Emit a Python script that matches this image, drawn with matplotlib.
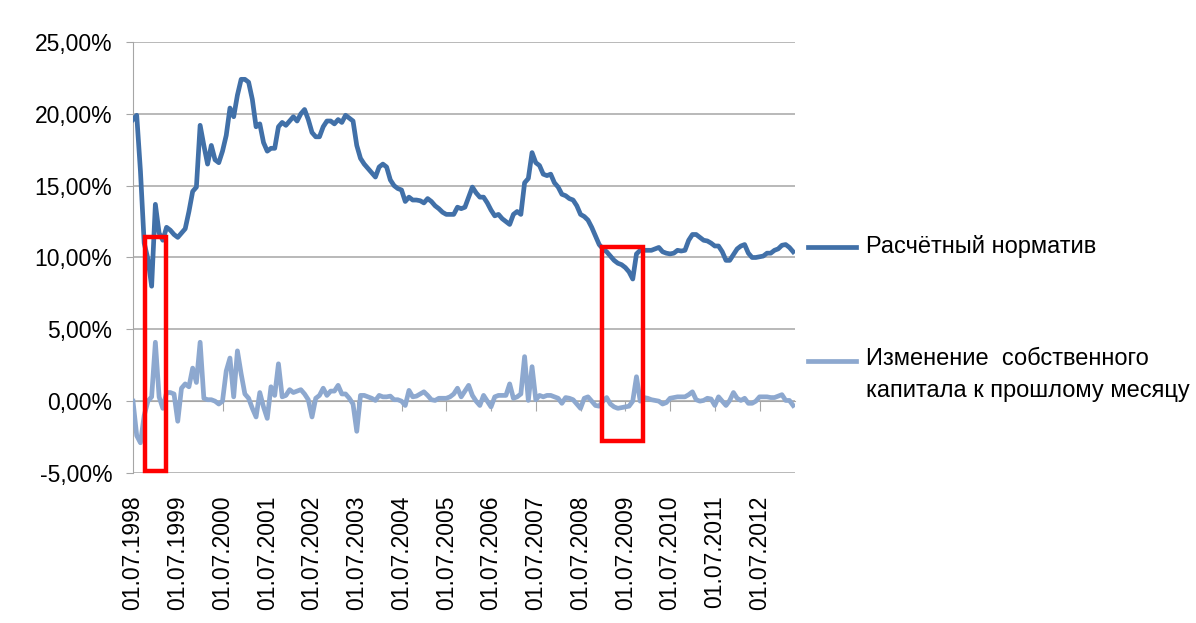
#!/usr/bin/env python3

import numpy as np
import matplotlib
matplotlib.use('AGG')
from matplotlib import pyplot as plt
from matplotlib.lines import Line2D
from matplotlib.patches import Rectangle
from matplotlib.ticker import FuncFormatter, MultipleLocator

# monthly values, 01.07.1998 .. 01.04.2013, in percent
normative = [
    19.6, 19.9, 16.0, 11.0, 9.9, 8.0, 13.7, 11.7, 11.2, 12.1, 11.9, 11.6,
    11.4, 11.7, 12.0, 13.2, 14.6, 14.9, 19.2, 17.8, 16.5, 17.8, 16.8, 16.6,
    17.4, 18.5, 20.4, 19.8, 21.3, 22.4, 22.4, 22.2, 21.0, 19.1, 19.3, 18.0,
    17.4, 17.6, 17.6, 19.1, 19.4, 19.2, 19.5, 19.8, 19.5, 20.0, 20.3, 19.6,
    18.7, 18.4, 18.4, 19.1, 19.5, 19.5, 19.3, 19.6, 19.4, 19.9, 19.7, 19.5,
    17.8, 16.9, 16.5, 16.2, 15.9, 15.6, 16.3, 16.5, 16.3, 15.4, 15.0, 14.8,
    14.7, 13.9, 14.2, 14.0, 14.0, 13.95, 13.8, 14.1, 13.9, 13.6, 13.4, 13.15,
    13.0, 13.0, 13.0, 13.5, 13.4, 13.5, 14.2, 14.9, 14.5, 14.2, 14.2, 13.8,
    13.3, 12.9, 13.0, 12.7, 12.5, 12.3, 13.0, 13.2, 13.0, 15.2, 15.5, 17.3,
    16.6, 16.4, 15.8, 15.7, 15.8, 15.2, 14.9, 14.4, 14.3, 14.1, 14.0, 13.6,
    13.0, 12.85, 12.6, 12.1, 11.5, 10.9, 10.6, 10.4, 10.1, 9.8, 9.6, 9.5,
    9.3, 9.0, 8.5, 10.25, 10.5, 10.5, 10.5, 10.5, 10.6, 10.7, 10.4, 10.3,
    10.25, 10.3, 10.5, 10.45, 10.5, 11.2, 11.6, 11.6, 11.4, 11.2, 11.15, 11.0,
    10.8, 10.8, 10.4, 9.8, 9.8, 10.2, 10.6, 10.8, 10.9, 10.3, 10.0, 10.0,
    10.05, 10.1, 10.3, 10.3, 10.5, 10.6, 10.85, 10.9, 10.7, 10.4,
]

equity_change = [
    0.0, -2.4, -2.9, -1.0, 0.0, 0.3, 4.1, 0.3, -0.5, 0.6, 0.6, 0.5,
    -1.4, 0.9, 1.2, 1.0, 2.3, 1.3, 4.1, 0.2, 0.1, 0.1, 0.0, -0.2,
    0.0, 2.1, 3.0, 0.3, 3.5, 1.9, 0.5, 0.2, -0.5, -1.1, 0.6, -0.4,
    -1.2, 1.0, 0.4, 2.6, 0.3, 0.4, 0.8, 0.6, 0.7, 0.8, 0.5, 0.1,
    -1.1, 0.2, 0.4, 0.9, 0.4, 0.7, 0.7, 1.1, 0.5, 0.5, 0.2, -0.2,
    -2.1, 0.4, 0.4, 0.3, 0.2, 0.05, 0.4, 0.3, 0.3, 0.35, 0.1, 0.1,
    0.0, -0.3, 0.75, 0.3, 0.35, 0.5, 0.65, 0.4, 0.1, 0.05, 0.2, 0.2,
    0.2, 0.3, 0.5, 0.9, 0.3, 0.7, 1.1, 0.4, 0.0, -0.3, 0.4, 0.0,
    -0.4, 0.3, 0.4, 0.4, 0.4, 1.2, 0.2, 0.3, 0.5, 3.1, 0.05, 2.4,
    0.1, 0.4, 0.3, 0.4, 0.4, 0.3, 0.2, -0.15, 0.25, 0.2, 0.1, -0.2,
    -0.5, 0.2, 0.3, 0.0, -0.3, -0.35, 0.0, 0.25, -0.2, -0.4, -0.5, -0.45,
    -0.4, -0.35, 0.0, 1.7, 0.0, 0.25, 0.2, 0.1, 0.05, 0.0, -0.2, -0.1,
    0.2, 0.25, 0.3, 0.3, 0.3, 0.45, 0.65, 0.1, 0.0, 0.05, 0.2, 0.15,
    -0.3, 0.3, 0.0, -0.3, 0.05, 0.6, 0.2, 0.05, 0.2, -0.15, -0.15, 0.0,
    0.3, 0.3, 0.3, 0.25, 0.25, 0.35, 0.45, 0.05, 0.05, -0.3,
]

tick_labels = ['01.07.%d' % y for y in range(1998, 2013)]

# highlighted crisis periods: (first month, last month, low %, high %)
highlights = [(3.2, 8.9, -4.85, 11.4), (125.8, 136.8, -2.8, 10.75)]

series_names = ['Расчётный норматив',
                'Изменение  собственного\nкапитала к прошлому месяцу']


def main(outfile):
    plt.rcParams['font.family'] = ['Liberation Sans', 'DejaVu Sans']
    plt.rcParams['font.size'] = 16.5

    dark = '#4170A8'
    light = '#8DA8CF'
    grid = '#A6A6A6'

    x = np.arange(len(normative))

    fig = plt.figure(figsize=(11.96, 6.23), dpi=100)
    ax = fig.add_axes([0.1112, 0.2408, 0.5535, 0.6918])

    ax.plot(x, normative, color=dark, lw=3.4, solid_joinstyle='round', zorder=3)
    ax.plot(x, equity_change, color=light, lw=3.4, solid_joinstyle='round', zorder=3)

    for x0, x1, lo, hi in highlights:
        ax.add_patch(Rectangle((x0, lo), x1 - x0, hi - lo, fill=False,
                               ec='#FF0000', lw=3.2, zorder=4, clip_on=False))

    ax.set_xlim(0, len(normative) - 0.5)
    ax.set_ylim(-5, 25)
    ax.yaxis.set_major_locator(MultipleLocator(5))
    ax.yaxis.set_major_formatter(FuncFormatter(lambda v, p: f'{v:.2f}%'.replace('.', ',')))
    ax.grid(axis='y', color=grid, lw=1.1)
    ax.set_axisbelow(True)

    for s in ['top', 'right']:
        ax.spines[s].set_visible(False)
    ax.spines['left'].set_color(grid)
    ax.spines['bottom'].set_color(grid)
    ax.spines['bottom'].set_position(('data', 0))
    ax.tick_params(axis='y', length=5, color=grid, pad=10)

    ticks = np.arange(0, len(normative), 12)
    ax.set_xticks(ticks)
    ax.tick_params(axis='x', length=7, color=grid, labelbottom=False)

    sec = ax.secondary_xaxis('bottom')
    sec.set_xticks(ticks, tick_labels, rotation=90)
    sec.tick_params(length=0, pad=16)
    sec.spines['bottom'].set_visible(False)

    # legend drawn by hand, as in the spreadsheet chart
    for ypos, color, name in [(0.604, dark, series_names[0]),
                              (0.421, light, series_names[1])]:
        fig.add_artist(Line2D([0.676, 0.716], [ypos, ypos], color=color, lw=3.4,
                              transform=fig.transFigure))
        if '\n' in name:
            fig.text(0.724, ypos + 0.021, name, va='top', ha='left',
                     linespacing=1.62, fontsize=17)
        else:
            fig.text(0.724, ypos, name, va='center', ha='left', fontsize=17)

    fig.savefig(outfile)


if __name__ == '__main__':
    main('out.png')
